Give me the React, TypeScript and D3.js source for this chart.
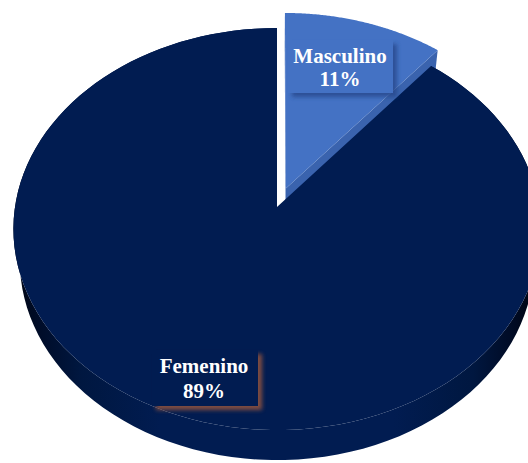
import React from "react";
import * as d3 from "d3";

const categories = ["Masculino", "Femenino"];
const values = [11, 89];
const percentLabels = ["11%", "89%"];

const W = 528;
const H = 463;
const CX = 277;
const CY = 207;
const F = 1559;
const D = 5.95;
const E = Math.asin(0.758);
const DEPTH = 0.193;
const EXPLODE = [0.1, 0];

const colors = ["#4472C4", "#011C51"];
const wallColors = ["#3A63AE", "#001A4A"];

function proj(X: number, Y: number, Z: number): [number, number] {
  const s = Math.sin(E), c = Math.cos(E);
  const yc = Y * s + Z * c;
  const zc = Y * c - Z * s + D;
  return [CX + (F * X) / zc, CY - (F * yc) / zc];
}

function arcPts(a0: number, a1: number, ox: number, oy: number, z: number, n = 120) {
  const pts: [number, number][] = [];
  for (let i = 0; i <= n; i++) {
    const a = a0 + ((a1 - a0) * i) / n;
    pts.push(proj(ox + Math.sin(a), oy + Math.cos(a), z));
  }
  return pts;
}

const line = d3.line<[number, number]>().x((d) => d[0]).y((d) => d[1]);

export default function App() {
  const pie = d3.pie<number>().sort(null).value((d) => d);
  const arcs = pie(values);

  const shapes = arcs.map((a, i) => {
    const ex = EXPLODE[i];
    const mid = (a.startAngle + a.endAngle) / 2;
    const ox = ex * Math.sin(mid);
    const oy = ex * Math.cos(mid);
    const apexT = proj(ox, oy, 0);
    const apexB = proj(ox, oy, -DEPTH);
    const topArc = arcPts(a.startAngle, a.endAngle, ox, oy, 0);
    const botArc = arcPts(a.startAngle, a.endAngle, ox, oy, -DEPTH);
    const top = line([apexT, ...topArc])! + "Z";
    const outer = line([...topArc, ...botArc.slice().reverse()])! + "Z";
    const endT = topArc[topArc.length - 1];
    const endB = botArc[botArc.length - 1];
    const stT = topArc[0];
    const stB = botArc[0];
    const wallEnd = line([apexT, endT, endB, apexB])! + "Z";
    const wallStart = line([apexT, stT, stB, apexB])! + "Z";
    return { top, outer, wallEnd, wallStart };
  });

  const labelPos = [
    { x: 340, y1: 63, y2: 86, box: [288, 40, 105, 53], shadow: "#27478a" },
    { x: 204, y1: 373, y2: 398, box: [152, 350, 106, 56], shadow: "#a0583c" },
  ];

  return (
    <div style={{ position: "fixed", left: 0, top: 0 }}>
      <svg width={W} height={H} viewBox={`0 0 ${W} ${H}`} style={{ display: "block" }}>
        <defs>
          <linearGradient id="femWall" gradientUnits="userSpaceOnUse" x1={12} y1={0} x2={542} y2={0}>
            <stop offset="0" stopColor="#000510" />
            <stop offset="0.05" stopColor="#000c28" />
            <stop offset="0.13" stopColor="#001740" />
            <stop offset="0.28" stopColor="#011c51" />
            <stop offset="0.72" stopColor="#011c51" />
            <stop offset="0.87" stopColor="#001740" />
            <stop offset="0.95" stopColor="#000a22" />
            <stop offset="1" stopColor="#000309" />
          </linearGradient>
          <filter id="blur" x="-20%" y="-20%" width="140%" height="140%">
            <feGaussianBlur stdDeviation="2" />
          </filter>
        </defs>
        {/* Masculino (exploded, behind) */}
        <path d={shapes[0].wallStart} fill={wallColors[0]} />
        <path d={shapes[0].wallEnd} fill={wallColors[0]} />
        <path d={shapes[0].top} fill={colors[0]} />
        {/* Femenino */}
        <path d={shapes[1].outer} fill="url(#femWall)" />
        <path d={shapes[1].top} fill={colors[1]} />
        {arcs.map((a, i) => {
          const p = labelPos[i];
          const [bx, by, bw, bh] = p.box;
          return (
            <g key={categories[i]}>
              <rect x={bx + 4} y={by + 4} width={bw} height={bh} fill={p.shadow} opacity={0.8} filter="url(#blur)" />
              <rect x={bx} y={by} width={bw} height={bh} fill={colors[i]} />
              <text
                x={p.x}
                textAnchor="middle"
                fill="#ffffff"
                fontFamily="'Liberation Serif', 'Times New Roman', serif"
                fontWeight="bold"
                fontSize={21}
              >
                <tspan x={p.x} y={p.y1}>{categories[i]}</tspan>
                <tspan x={p.x} y={p.y2}>{percentLabels[i]}</tspan>
              </text>
            </g>
          );
        })}
      </svg>
    </div>
  );
}
